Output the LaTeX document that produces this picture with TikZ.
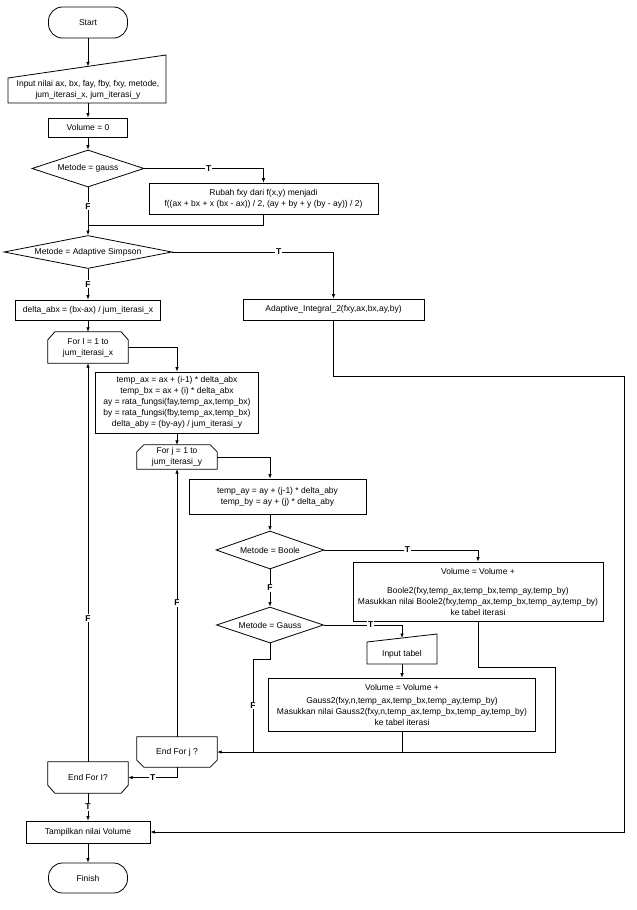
\documentclass[tikz,border=0pt]{standalone}
\usepackage{fontspec}
\setmainfont{Liberation Sans}
\usetikzlibrary{arrows.meta,shapes.geometric,calc}
\begin{document}
\begin{tikzpicture}[x=1pt,y=-1pt,
  every node/.style={font=\fontsize{8.5}{11}\selectfont, text=black},
  outl/.style={draw, line width=0.8pt},
  shp/.style={draw, line width=0.8pt, inner sep=1pt, align=center},
  term/.style={shp, rectangle, rounded corners=14pt},
  proc/.style={shp, rectangle},
  dec/.style={shp, diamond, inner sep=0pt},
  plain/.style={align=center, inner sep=0pt},
  con/.style={line width=0.7pt},
  arr/.style={con, -{Latex[length=4.5pt,width=3.5pt]}},
  lab/.style={fill=white, inner sep=1pt, font=\fontsize{8.5}{10}\selectfont\bfseries}]
\useasboundingbox[fill=white] (0,0) rectangle (637,910);

% nodes
\node[term, minimum width=79pt, minimum height=31pt] (start) at (88,22.5) {Start};
\coordinate (inptop) at (88,66.4);
\coordinate (inpbot) at (88,103);
\draw[outl] (8,78) -- (166,55) -- (166,103) -- (8,103) -- cycle;
\node[plain] (inp) at (88,90) {Input nilai ax, bx, fay, fby, fxy, metode,\\jum\_iterasi\_x, jum\_iterasi\_y};
\node[proc, minimum width=79pt, minimum height=19pt] (vol0) at (88,127.5) {Volume = 0};
\node[dec, minimum width=112pt, minimum height=37pt, aspect=3] (d1) at (88,168.5) {Metode = gauss};
\node[proc, minimum width=229pt, minimum height=31pt] (rubah) at (263.5,198.5) {Rubah fxy dari f(x,y) menjadi\\f((ax + bx + x (bx - ax)) / 2, (ay + by + y (by - ay)) / 2)};
\coordinate (j1) at (88,225);
\node[dec, minimum width=168pt, minimum height=33pt, aspect=5] (d2) at (88,252) {Metode = Adaptive Simpson};
\node[proc, minimum width=181pt, minimum height=21pt] (adapt) at (333.5,309.5) {Adaptive\_Integral\_2(fxy,ax,bx,ay,by)};
\coordinate (r1) at (333.5,376);
\coordinate (r2) at (624,376);
\node[proc, minimum width=145pt, minimum height=20pt] (delta) at (88,310) {delta\_abx = (bx-ax) / jum\_iterasi\_x};
\node[plain, minimum width=80pt, minimum height=31pt] (fori) at (88,347.5) {For I = 1 to\\jum\_iterasi\_x};
\draw[outl] ([yshift=-8pt]fori.north west) -- ([xshift=7pt]fori.north west) -- ([xshift=-7pt]fori.north east) -- ([yshift=-8pt]fori.north east) -- (fori.south east) -- (fori.south west) -- cycle;
\node[proc, minimum width=163pt, minimum height=61pt] (temp) at (177,402.5) {temp\_ax = ax + (i-1) * delta\_abx\\temp\_bx = ax + (i) * delta\_abx\\ay = rata\_fungsi(fay,temp\_ax,temp\_bx)\\by = rata\_fungsi(fby,temp\_ax,temp\_bx)\\delta\_aby = (by-ay) / jum\_iterasi\_y};
\node[plain, minimum width=80pt, minimum height=24pt] (forj) at (177,457) {For j = 1 to\\jum\_iterasi\_y};
\draw[outl] ([yshift=-7pt]forj.north west) -- ([xshift=7pt]forj.north west) -- ([xshift=-7pt]forj.north east) -- ([yshift=-7pt]forj.north east) -- (forj.south east) -- (forj.south west) -- cycle;
\node[proc, minimum width=177pt, minimum height=35pt] (tay) at (277.5,496.5) {temp\_ay = ay + (j-1) * delta\_aby\\temp\_by = ay + (j) * delta\_aby};
\node[dec, minimum width=108pt, minimum height=38pt, aspect=2.85] (d3) at (270,550) {Metode = Boole};
\node[proc, minimum width=250pt, minimum height=59pt] (boole) at (478,591.5) {Volume = Volume +\\[8pt]Boole2(fxy,temp\_ax,temp\_bx,temp\_ay,temp\_by)\\Masukkan nilai Boole2(fxy,temp\_ax,temp\_bx,temp\_ay,temp\_by)\\ke tabel iterasi};
\coordinate (b1) at (478,667);
\coordinate (b2) at (555,667);
\node[dec, minimum width=107pt, minimum height=36pt, aspect=3] (d4) at (270,625) {Metode = Gauss};
\draw[outl] (367,642) -- (437,634) -- (437,664) -- (367,664) -- cycle;
\node[plain] (intab) at (402,654) {Input tabel};
\coordinate (intabtop) at (402,638);
\coordinate (intabbot) at (402,664);
\node[proc, minimum width=267pt, minimum height=53pt] (gauss) at (402,704.5) {Volume = Volume +\\[2pt]Gauss2(fxy,n,temp\_ax,temp\_bx,temp\_ay,temp\_by)\\Masukkan nilai Gauss2(fxy,n,temp\_ax,temp\_bx,temp\_ay,temp\_by)\\ke tabel iterasi};
\coordinate (g1) at (270,659);
\coordinate (g2) at (253,659);
\coordinate (g3) at (253,752);
\node[plain, minimum width=80pt, minimum height=30pt] (endj) at (177,752) {End For j ?};
\draw[outl] (endj.north west) -- (endj.north east) -- ([yshift=7pt]endj.south east) -- ([xshift=-7pt]endj.south east) -- ([xshift=7pt]endj.south west) -- ([yshift=7pt]endj.south west) -- cycle;
\node[plain, minimum width=80pt, minimum height=31pt] (endi) at (88,777.5) {End For I?};
\draw[outl] (endi.north west) -- (endi.north east) -- ([yshift=8pt]endi.south east) -- ([xshift=-7pt]endi.south east) -- ([xshift=7pt]endi.south west) -- ([yshift=8pt]endi.south west) -- cycle;
\node[proc, minimum width=124pt, minimum height=22pt] (tamp) at (88,832) {Tampilkan nilai Volume};
\node[term, minimum width=79pt, minimum height=30pt] (finish) at (88,878) {Finish};

% connectors
\draw[arr] (start.south) -- (inptop);
\draw[arr] (inpbot) -- (vol0);
\draw[arr] (vol0) -- (d1);
\draw[arr] (d1.east) -| node[lab, pos=0.27]{T} (rubah.north);
\draw[con] (rubah.south) |- (j1);
\draw[con] (d1.south) -- node[lab]{F} (j1);
\draw[arr] (j1) -- (d2.north);
\draw[arr] (d2.east) -| node[lab, pos=0.33]{T} (adapt.north);
\draw[arr] (adapt.south) -- (r1) -- (r2) |- (tamp.east);
\draw[arr] (d2.south) -- node[lab]{F} (delta.north);
\draw[arr] (delta) -- (fori);
\draw[arr] (fori.east) -| (temp.north);
\draw[arr] (temp) -- (forj);
\draw[arr] (forj.east) -| (tay.north -| d3.north);
\draw[arr] (tay.south -| d3.north) -- (d3.north);
\draw[arr] (d3.east) -| node[lab, pos=0.27]{T} (boole.north);
\draw[arr] (boole.south) -- (b1) -- (b2) |- (endj.east);
\draw[arr] (d3.south) -- node[lab]{F} (d4.north);
\draw[arr] (d4.east) -| node[lab, pos=0.3]{T} (intabtop);
\draw[arr] (intabbot) -- (gauss.north);
\draw[con] (gauss.south) -- (gauss.south |- endj.east);
\draw[con] (d4.south) -- (g1) -- (g2) -- node[lab]{F} (g3);
\draw[arr] (endj.north) -- node[lab]{F} (forj.south);
\draw[arr] (endj.south) |- node[lab, pos=0.75]{T} (endi.east);
\draw[arr] (endi.north) -- node[lab, pos=0.36]{F} (fori.south);
\draw[arr] (endi.south) -- node[lab]{T} (tamp.north);
\draw[arr] (tamp) -- (finish);
\end{tikzpicture}
\end{document}
